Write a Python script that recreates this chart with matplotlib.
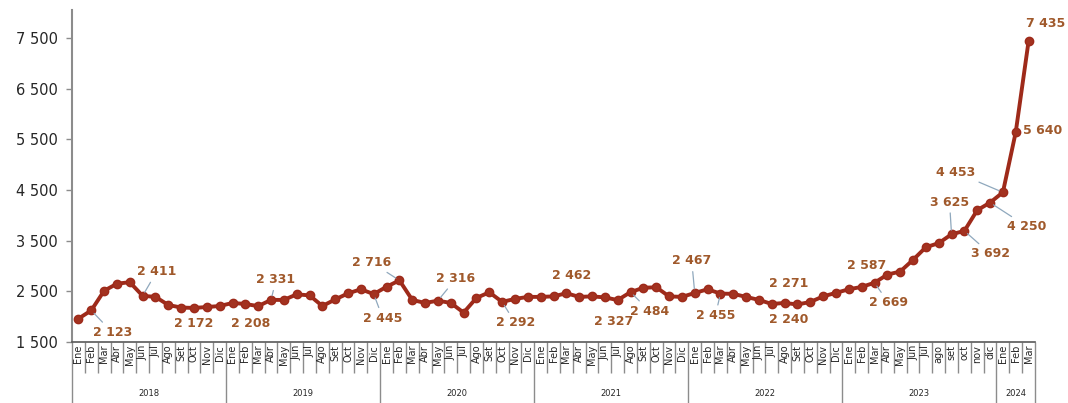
import matplotlib
matplotlib.use("Agg")
import matplotlib.pyplot as plt
import numpy as np

# monthly series, Ene 2018 - Mar 2024
years = ["2018", "2019", "2020", "2021", "2022", "2023", "2024"]
months = ["Ene", "Feb", "Mar", "Abr", "May", "Jun", "Jul", "Ago", "Set", "Oct", "Nov", "Dic"]
months_2023 = ["Ene", "Feb", "Mar", "Abr", "May", "Jun", "Jul", "ago", "set", "oct", "nov", "dic"]
months_2024 = ["Ene", "Feb", "Mar"]

values = [
    1960, 2123, 2510, 2650, 2680, 2411, 2390, 2230, 2180, 2172, 2190, 2210,   # 2018
    2270, 2250, 2208, 2331, 2330, 2440, 2420, 2210, 2340, 2460, 2540, 2445,   # 2019
    2590, 2716, 2330, 2270, 2316, 2270, 2080, 2370, 2480, 2292, 2350, 2390,   # 2020
    2390, 2400, 2462, 2390, 2400, 2380, 2327, 2484, 2570, 2580, 2400, 2390,   # 2021
    2467, 2540, 2455, 2450, 2390, 2330, 2250, 2271, 2240, 2290, 2400, 2470,   # 2022
    2540, 2587, 2669, 2830, 2890, 3120, 3370, 3450, 3625, 3692, 4100, 4250,   # 2023
    4453, 5640, 7435,                                                          # 2024
]

# labelled points: index, label offset in pixels (dx, dy), leader line
label_idx = [1, 5, 9, 14, 15, 23, 25, 28, 33, 38, 42, 43, 48, 50, 55, 56, 61, 62, 68, 69, 71, 72, 73, 74]
label_dx = [21, 14, 0, -8, 5, 9, -28, 18, 13, 5, -4, 19, -3, -5, 4, -9, 5, 14, -2, 26, 37, -47, 27, 17]
label_dy = [-22, 24, -16, -17, 20, -24, 18, 22, -21, 18, -21, -19, 32, -22, 19, -15, 21, -20, 32, -23, -24, 20, 2, 18]
leader = [1, 1, 0, 0, 1, 1, 1, 1, 1, 0, 0, 1, 1, 1, 0, 0, 0, 1, 1, 1, 1, 1, 0, 0]

month_labels = months * 5 + months_2023 + months_2024
x = np.arange(len(values))

fig = plt.figure(figsize=(10.68, 4.03), dpi=100)
ax = fig.add_axes([72 / 1068, 61 / 403, 963 / 1068, 332 / 403])

line_color = "#9E2A1A"
label_color = "#A0592B"
ax.plot(x, values, color=line_color, lw=2.8, marker="o", ms=6,
        markerfacecolor="#A33220", markeredgecolor=line_color, zorder=3)

for i, dx, dy, ld in zip(label_idx, label_dx, label_dy, leader):
    txt = f"{values[i]:,}".replace(",", " ")
    props = dict(arrowstyle="-", color="#8FA8BD", lw=0.9, shrinkA=1, shrinkB=3) if ld else None
    ax.annotate(txt, xy=(i, values[i]), xytext=(dx, dy), textcoords="offset pixels",
                ha="center", va="center", fontsize=9, fontweight="bold",
                color=label_color, arrowprops=props, zorder=4)

ax.set_xlim(-0.5, len(values) - 0.5)
ax.set_ylim(1500, 8050)
yt = np.arange(1500, 7501, 1000)
ax.set_yticks(yt)
ax.set_yticklabels([f"{v:,}".replace(",", " ") for v in yt], fontsize=10.5, color="#262626")
ax.tick_params(axis="y", direction="out", length=4, width=1, color="#8c8c8c", pad=6)

# x axis: month boundaries as minor ticks, year boundaries as long major ticks
year_bounds = [-0.5, 11.5, 23.5, 35.5, 47.5, 59.5, 71.5, 74.5]
ax.set_xticks(year_bounds)
ax.set_xticklabels([])
ax.set_xticks([b for b in np.arange(-0.5, 75, 1) if b not in year_bounds], minor=True)
ax.tick_params(axis="x", which="major", length=44, width=1, color="#8c8c8c")
ax.tick_params(axis="x", which="minor", length=22, width=1, color="#8c8c8c")

for i, m in enumerate(month_labels):
    ax.annotate(m, xy=(i, 0), xycoords=ax.get_xaxis_transform(), xytext=(0, -2),
                textcoords="offset points", rotation=90, ha="center", va="top",
                fontsize=7, color="#262626")

for k, yr in enumerate(years):
    c = (year_bounds[k] + year_bounds[k + 1]) / 2
    ax.annotate(yr, xy=(c, 0), xycoords=ax.get_xaxis_transform(), xytext=(0, -37),
                textcoords="offset points", ha="center", va="center",
                fontsize=6, color="#262626")

for s in ["top", "right"]:
    ax.spines[s].set_visible(False)
ax.spines["left"].set_color("#8c8c8c")
ax.spines["left"].set_linewidth(1.5)
ax.spines["bottom"].set_color("#595959")
ax.spines["bottom"].set_linewidth(1.2)

fig.savefig("out.png", dpi=100)
